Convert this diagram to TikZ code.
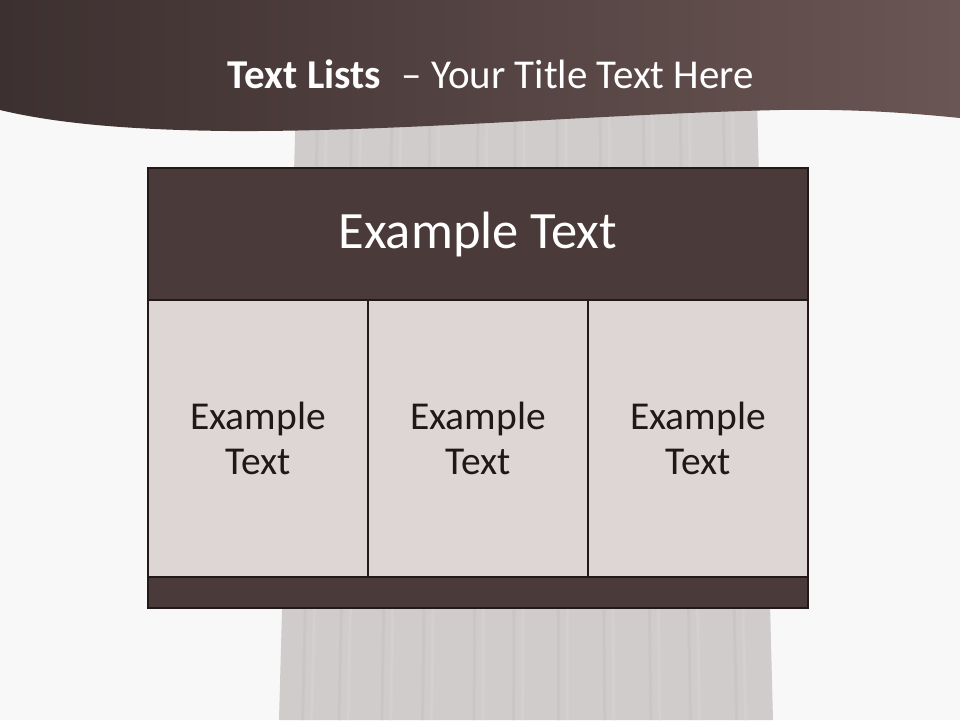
\documentclass[tikz,border=0pt]{standalone}
\usepackage{fontspec}
\setmainfont{Carlito}
\usetikzlibrary{positioning}

\definecolor{bgcol}{HTML}{F8F8F8}
\definecolor{pillar}{HTML}{CFCCCB}
\definecolor{pillarline}{HTML}{C9C6C5}
\definecolor{pillarlight}{HTML}{D3D0CF}
\definecolor{bandleft}{HTML}{3D3030}
\definecolor{bandright}{HTML}{6A5654}
\definecolor{headcol}{HTML}{4A3A3A}
\definecolor{cellcol}{HTML}{DED6D5}
\definecolor{edgecol}{HTML}{221919}
\definecolor{textcol}{HTML}{1E1818}

\begin{document}
\begin{tikzpicture}[x=1pt,y=-1pt]

\tikzset{head/.style = {draw=edgecol, line width=2.8pt, fill=headcol, minimum width=660pt, inner sep=0pt, text=white}}
\tikzset{cell/.style = {draw=edgecol, line width=2.8pt, fill=cellcol, minimum width=220pt, minimum height=277pt, inner sep=0pt, align=center, text=textcol, font=\fontsize{39.5}{45}\selectfont}}

% background
\fill[bgcol] (0,0) rectangle (960,720);
\useasboundingbox (0,0) rectangle (960,720);

% pillar
\fill[pillar] (296,100) -- (757,100) -- (773,720) -- (279,720) -- cycle;
\foreach \t in {318, 352, 392, 430, 478, 515, 557, 600, 643, 680, 723} {
  \pgfmathsetmacro{\b}{279+(\t-296)*1.0716}
  \draw[pillarline, line width=3pt] (\t,100) -- (\b,720);
  \draw[pillarlight, line width=3pt] (\t+9,100) -- (\b+9,720);
}

% banner
\shade[left color=bandleft, right color=bandright]
  (0,0) -- (960,0) -- (960,118)
  .. controls (900,112) and (850,109) .. (780,110)
  .. controls (600,114) and (400,132) .. (230,131)
  .. controls (120,130) and (50,122) .. (0,110) -- cycle;

\node (title) at (491,74) {\fontsize{41}{48}\selectfont\color{white}\textbf{Text Lists}\enspace{}– Your Title Text Here};

% table
\node[head, minimum height=132pt, font=\fontsize{52.5}{60}\selectfont] (header) at (478,234) {\raisebox{-3pt}{Example Text}};
\node[cell] (cella) at (258,438.5) {Example\\Text};
\node[cell] (cellb) at (478,438.5) {Example\\Text};
\node[cell] (cellc) at (698,438.5) {Example\\Text};
\node[head, minimum height=31pt] (footer) at (478,592.5) {};

\end{tikzpicture}
\end{document}
